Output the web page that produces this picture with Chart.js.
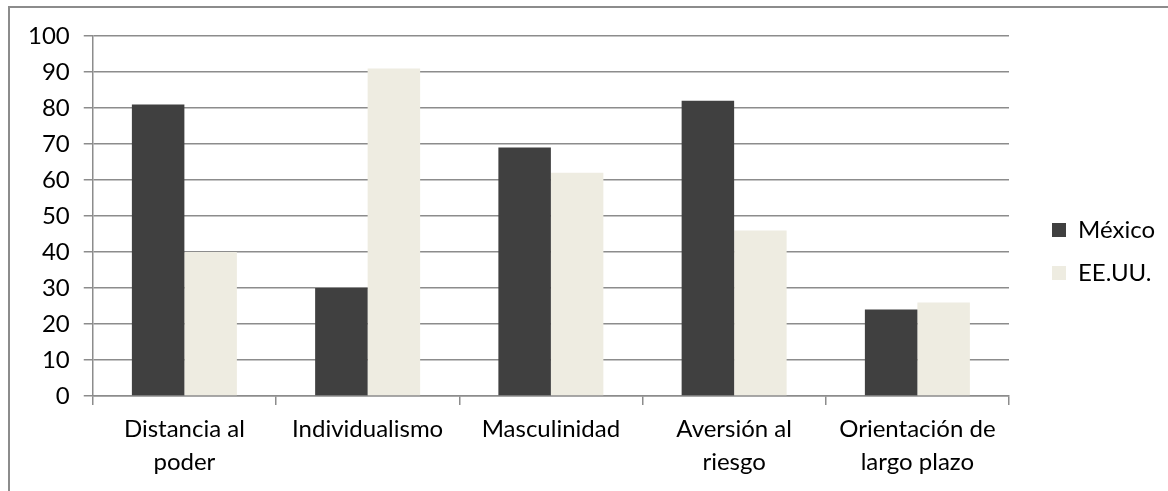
<!DOCTYPE html>
<html>
<head>
<meta charset="utf-8">
<script src="https://cdn.jsdelivr.net/npm/chart.js@4"></script>
<style>
  html, body { margin: 0; padding: 0; background: #fff; }
  #wrap { position: relative; width: 1168px; height: 491px; overflow: hidden; }
  #frame { position: absolute; left: 8px; top: 6px; width: 1300px; height: 600px;
           border-left: 2px solid #8c8c8c; border-top: 2px solid #8c8c8c; }
  #chart { position: absolute; left: 0; top: 0; }
</style>
</head>
<body>
<div id="wrap">
  <div id="frame"></div>
  <canvas id="chart" width="1168" height="491"></canvas>
</div>
<script>
var categories = [['Distancia al', 'poder'], 'Individualismo', 'Masculinidad', ['Aversión al', 'riesgo'], ['Orientación de', 'largo plazo']];
var mexico = [81, 30, 69, 82, 24];
var eeuu = [40, 91, 62, 46, 26];
var yTicks = [0, 10, 20, 30, 40, 50, 60, 70, 80, 90, 100];

var font = { family: 'Lato', size: 24, lineHeight: 1.375 };

var ctx = document.getElementById('chart').getContext('2d');
new Chart(ctx, {
    type: 'bar',
    data: {
        labels: categories,
        datasets: [{
            label: 'México',
            data: mexico,
            backgroundColor: '#404040',
            barPercentage: 1,
            categoryPercentage: 0.573
        }, {
            label: 'EE.UU.',
            data: eeuu,
            backgroundColor: '#eeece1',
            barPercentage: 1,
            categoryPercentage: 0.573
        }]
    },
    options: {
        responsive: false,
        animation: false,
        layout: { padding: { left: 14, top: 16, bottom: 4, right: 3 } },
        plugins: {
            // empty title only used as top spacer so the legend can sit higher
            title: {
                display: true,
                text: ' ',
                font: { size: 10, lineHeight: 1 },
                padding: 5
            },
            legend: {
                position: 'right',
                labels: {
                    font: { family: 'Lato', size: 24 },
                    color: '#000',
                    boxWidth: 14,
                    boxHeight: 14,
                    padding: 19
                }
            },
            tooltip: { enabled: false }
        },
        scales: {
            x: {
                offset: true,
                grid: {
                    offset: true,
                    drawOnChartArea: false,
                    color: '#8c8c8c',
                    lineWidth: 1.5,
                    tickLength: 9
                },
                border: { color: '#8c8c8c', width: 1.5 },
                ticks: { font: font, color: '#000', padding: 8, maxRotation: 0 }
            },
            y: {
                min: 0,
                max: 100,
                afterBuildTicks: function (scale) {
                    scale.ticks = yTicks.map(function (v) { return { value: v }; });
                },
                grid: { color: '#8c8c8c', lineWidth: 1.5, tickLength: 9 },
                border: { color: '#8c8c8c', width: 1.5 },
                ticks: { font: { family: 'Lato', size: 24 }, color: '#000', padding: 14 }
            },
            gap: {
                axis: 'y',
                position: 'right',
                display: true,
                grid: { display: false },
                border: { display: false },
                ticks: { display: false },
                afterFit: function (scale) { scale.width = 24; }
            }
        }
    }
});
</script>
</body>
</html>
